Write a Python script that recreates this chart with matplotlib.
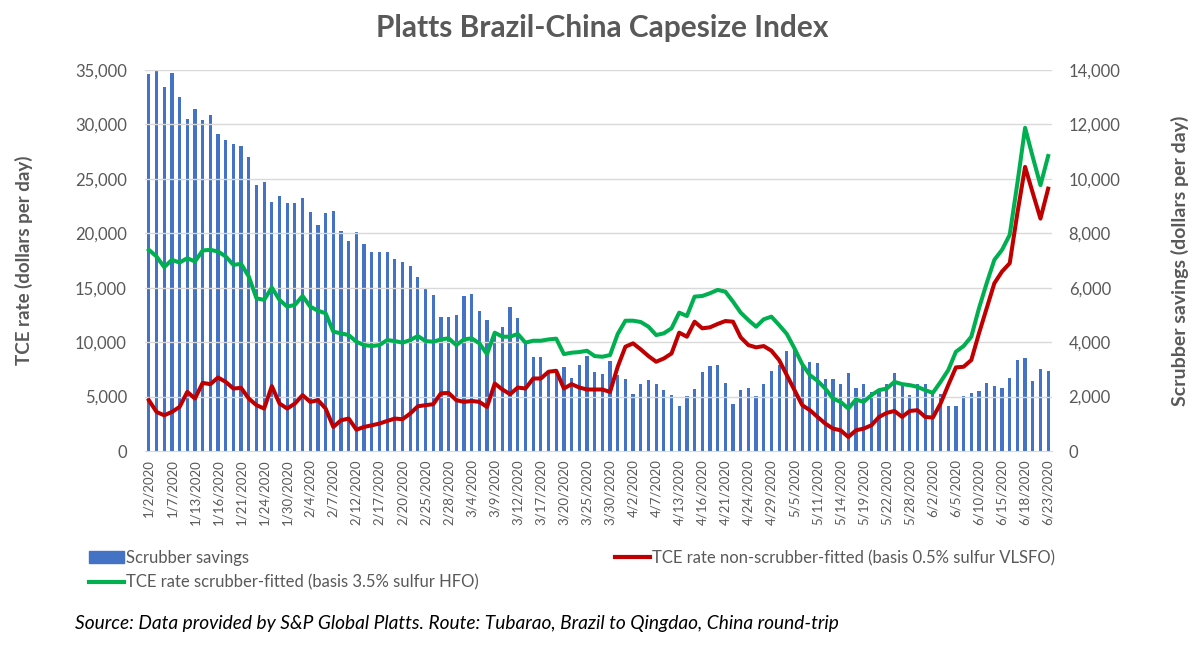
import matplotlib
matplotlib.use("Agg")
import matplotlib.pyplot as plt
from matplotlib.ticker import FuncFormatter, MultipleLocator
from matplotlib.patches import Patch
from matplotlib.lines import Line2D

plt.rcParams['font.family'] = ['Lato', 'DejaVu Sans']

# every third trading day is labelled on the category axis (118 days in total)
tick_labels = ['1/2/2020', '1/7/2020', '1/13/2020', '1/16/2020', '1/21/2020', '1/24/2020',
               '1/30/2020', '2/4/2020', '2/7/2020', '2/12/2020', '2/17/2020', '2/20/2020',
               '2/25/2020', '2/28/2020', '3/4/2020', '3/9/2020', '3/12/2020', '3/17/2020',
               '3/20/2020', '3/25/2020', '3/30/2020', '4/2/2020', '4/7/2020', '4/13/2020',
               '4/16/2020', '4/21/2020', '4/24/2020', '4/29/2020', '5/5/2020', '5/11/2020',
               '5/14/2020', '5/19/2020', '5/22/2020', '5/28/2020', '6/2/2020', '6/5/2020',
               '6/10/2020', '6/15/2020', '6/18/2020', '6/23/2020']

# scrubber savings, right axis ($/day)
savings = [13840, 14000, 13385, 13877, 12992, 12182, 12550, 12145, 12329, 11641,
           11420, 11273, 11199, 10806, 9775, 9873, 9161, 9382, 9112, 9112,
           9308, 8780, 8289, 8743, 8829, 8093, 7700, 8043, 7589, 7294,
           7294, 7294, 7073, 6963, 6791, 6410, 5956, 5735, 4937, 4912,
           4998, 5698, 5759, 5145, 4814, 4384, 4568, 5280, 4875, 3954,
           3463, 3463, 2849, 2910, 3070, 2665, 3144, 3488, 2910, 2812,
           3303, 2800, 2628, 2088, 2480, 2603, 2444, 2235, 2051, 1645,
           2014, 2296, 2886, 3119, 3144, 2517, 1744, 2235, 2333, 2014,
           2456, 2947, 3156, 3684, 3709, 3144, 3279, 3217, 2640, 2640,
           2480, 2849, 2333, 2456, 2174, 2174, 2480, 2849, 2480, 2075,
           2480, 2456, 2100, 2112, 1645, 1645, 2039, 2137, 2210, 2505,
           2382, 2333, 2665, 3340, 3401, 2566, 2996, 2935]

# TCE scrubber-fitted, left axis ($/day)
tce_scrubber = [18480, 17870, 16890, 17560, 17310, 17710, 17410, 18420, 18480, 18330,
                17870, 17100, 17190, 16030, 14030, 13880, 15010, 13880, 13260, 13420,
                14240, 13260, 12890, 12650, 10960, 10810, 10650, 10040, 9730, 9640,
                9730, 10190, 10100, 9950, 10190, 10560, 10100, 10040, 10250, 10350,
                9730, 10250, 10350, 9890, 8900, 10870, 10500, 10500, 10750, 9950,
                10130, 10130, 10250, 10320, 8900, 9030, 9090, 9210, 8720, 8660,
                8810, 10750, 11970, 11970, 11850, 11420, 10650, 10810, 11270, 12710,
                12400, 14180, 14240, 14490, 14800, 14640, 13720, 12710, 12030, 11420,
                12100, 12340, 11570, 10750, 9420, 7980, 6970, 6450, 5740, 4820,
                4510, 3900, 4730, 4510, 5130, 5590, 5740, 6350, 6140, 6050,
                5890, 5590, 5340, 6350, 7430, 9120, 9640, 10500, 13110, 15410,
                17560, 18480, 19860, 24620, 29690, 27000, 24420, 27100]

# TCE non-scrubber-fitted, left axis ($/day)
tce_non_scrubber = [4670, 3590, 3280, 3590, 4050, 5430, 4820, 6260, 6140, 6750,
                    6350, 5740, 5800, 4820, 4210, 3900, 5960, 4360, 3900, 4360,
                    5130, 4510, 4670, 3900, 2210, 2820, 2980, 1960, 2210, 2360,
                    2520, 2760, 2980, 2920, 3440, 4110, 4210, 4300, 5300, 5330,
                    4670, 4510, 4600, 4510, 4050, 6200, 5650, 5220, 5830, 5740,
                    6660, 6660, 7280, 7370, 5740, 6140, 5830, 5650, 5650, 5650,
                    5430, 7740, 9580, 9890, 9330, 8720, 8200, 8500, 8960, 10870,
                    10500, 11880, 11270, 11360, 11670, 11940, 11880, 10440, 9730, 9520,
                    9640, 9210, 8350, 6970, 5590, 4210, 3750, 3130, 2520, 2060,
                    1900, 1290, 1900, 2060, 2360, 3130, 3500, 3680, 3130, 3680,
                    3750, 3130, 3070, 4360, 6050, 7680, 7740, 8350, 10810, 13110,
                    15410, 16490, 17250, 21860, 26100, 23700, 21350, 24100]

GRAY = '#595959'
BLUE = '#4472C4'
GREEN = '#00B050'
RED = '#C00000'

W, H = 1200, 645
fig = plt.figure(figsize=(W / 100, H / 100), dpi=100)
ax = fig.add_axes([145 / W, (H - 451) / H, (1052 - 145) / W, (451 - 70) / H])
ax2 = ax.twinx()

x = list(range(len(savings)))
ax2.bar(x, savings, width=0.42, color=BLUE, zorder=2)
ax.plot(x, tce_non_scrubber, color=RED, lw=2.9, solid_joinstyle='round', zorder=4)
ax.plot(x, tce_scrubber, color=GREEN, lw=2.9, solid_joinstyle='round', zorder=4)

# lines above the bars
ax.set_zorder(ax2.get_zorder() + 1)
ax.patch.set_visible(False)

ax.set_xlim(-0.5, len(savings) - 0.5)
ax.set_ylim(0, 35000)
ax2.set_ylim(0, 14000)
ax.yaxis.set_major_locator(MultipleLocator(5000))
ax2.yaxis.set_major_locator(MultipleLocator(2000))
fmt = FuncFormatter(lambda v, p: f'{int(v):,}')
ax.yaxis.set_major_formatter(fmt)
ax2.yaxis.set_major_formatter(fmt)

ax2.grid(False)
for y in range(5000, 35001, 5000):
    ax.axhline(y, color='#D9D9D9', lw=1, zorder=0)

ax.set_xticks(x[::3])
ax.set_xticklabels(tick_labels, rotation=90, fontsize=9.5, color=GRAY)
ax.tick_params(axis='x', length=0, pad=6)
ax.tick_params(axis='y', length=0, labelsize=12, labelcolor=GRAY, pad=13)
ax2.tick_params(axis='y', length=0, labelsize=12, labelcolor=GRAY, pad=12)

for a in (ax, ax2):
    for s in a.spines.values():
        s.set_visible(False)
ax.spines['bottom'].set_visible(True)
ax.spines['bottom'].set_color('#D9D9D9')

ax.set_ylabel('TCE rate (dollars per day)', fontsize=13.5, fontweight='bold', color=GRAY, labelpad=30)
ax2.set_ylabel('Scrubber savings (dollars per day)', fontsize=14, fontweight='bold', color=GRAY,
               labelpad=36)

fig.text(0.502, 1 - 28 / H, 'Platts Brazil-China Capesize Index', ha='center', va='center',
         fontsize=21.5, fontweight='bold', color=GRAY)

h_bar = Patch(color=BLUE)
h_green = Line2D([], [], color=GREEN, lw=3)
h_red = Line2D([], [], color=RED, lw=3)
leg_kw = dict(frameon=False, fontsize=12, handlelength=2.1, handletextpad=0.12,
              labelspacing=0.5, borderaxespad=0, borderpad=0, labelcolor=GRAY)
fig.legend([h_bar, h_green], ['Scrubber savings', 'TCE rate scrubber-fitted (basis 3.5% sulfur HFO)'],
           loc='upper left', bbox_to_anchor=(89 / W, 1 - 550 / H), **leg_kw)
fig.legend([h_red], ['TCE rate non-scrubber-fitted (basis 0.5% sulfur VLSFO)'],
           loc='upper left', bbox_to_anchor=(615 / W, 1 - 550 / H), **leg_kw)

fig.text(75 / W, 1 - 624 / H,
         'Source: Data provided by S&P Global Platts. Route: Tubarao, Brazil to Qingdao, China round-trip',
         ha='left', va='center', fontsize=13.8, style='italic', color='black')

fig.savefig('out.png', dpi=100, facecolor='white')
